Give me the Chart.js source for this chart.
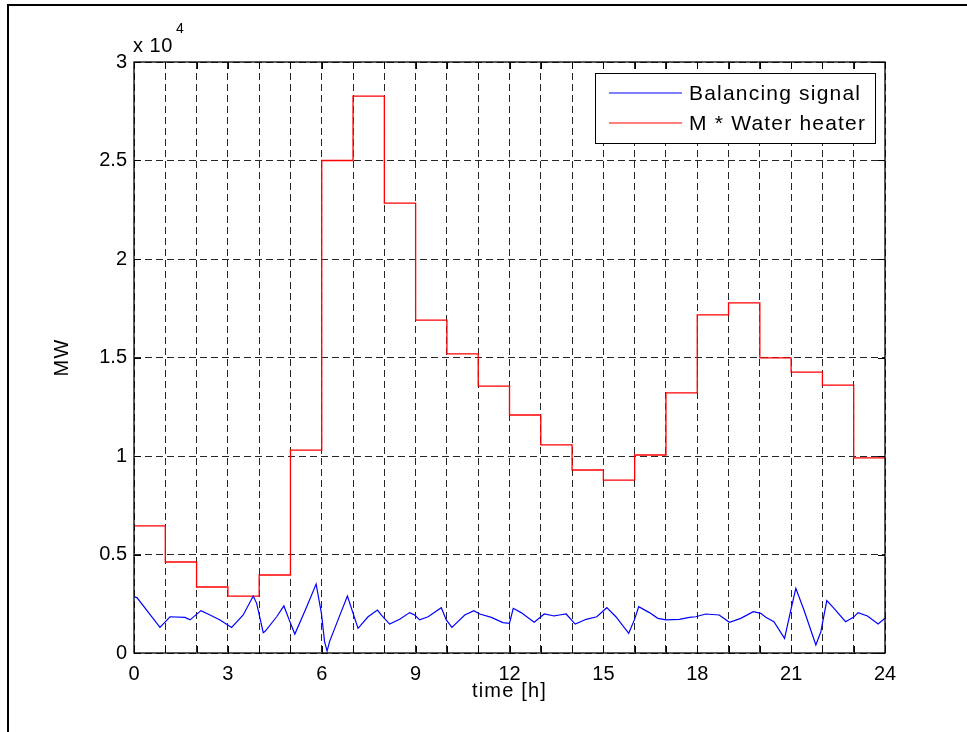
<!DOCTYPE html>
<html>
<head>
<meta charset="utf-8">
<title>Balancing signal vs water heater</title>
<script src="https://cdn.jsdelivr.net/npm/chart.js@4.4.1/dist/chart.umd.min.js"></script>
<style>
  html, body { margin: 0; padding: 0; background: #fff; overflow: hidden; }
  #wrap { position: relative; width: 967px; height: 732px; }
  #frame {
    position: absolute; left: 7px; top: 4px; width: 1000px; height: 800px;
    border-left: 2px solid #000; border-top: 2px solid #000; pointer-events: none;
  }
</style>
</head>
<body>
<div id="wrap">
  <canvas id="chart" width="967" height="732"></canvas>
  <div id="frame"></div>
</div>
<script>
// hourly water heater demand (MW), one value per hour 0..23
var heaterMW = [6450, 4620, 3350, 2890, 3960, 10300, 25000, 28270, 22840, 16900,
  15180, 13550, 12080, 10560, 9290, 8780, 10050, 13200, 17160, 17770,
  14980, 14260, 13600, 9900];

// balancing signal, sampled at uneven times (h)
var blueHours = [0, 0.1, 0.83, 1.15, 1.63, 1.79, 2.14, 2.43, 2.75, 3.12,
  3.49, 3.81, 3.92, 4.13, 4.19, 4.56, 4.79, 4.96, 5.14, 5.52,
  5.82, 5.99, 6.09, 6.17, 6.25, 6.52, 6.82, 7.16, 7.48, 7.78,
  7.9, 8.17, 8.49, 8.81, 8.97, 9.13, 9.4, 9.82, 9.98, 10.16,
  10.57, 10.86, 11.05, 11.42, 11.79, 12.0, 12.12, 12.37, 12.79, 13.11,
  13.43, 13.6, 13.81, 14.1, 14.45, 14.79, 15.11, 15.4, 15.81, 15.99,
  16.13, 16.47, 16.74, 17.0, 17.43, 17.75, 17.95, 18.27, 18.7, 19.03,
  19.39, 19.79, 20.03, 20.19, 20.45, 20.79, 20.99, 21.15, 21.41, 21.79,
  21.95, 22.14, 22.37, 22.74, 22.99, 23.14, 23.44, 23.78, 24.0];
var blueMW = [2860, 2800, 1300, 1840, 1810, 1680, 2150, 1930, 1680, 1300,
  1930, 2890, 2520, 1030, 1100, 1840, 2390, 1680, 960, 2350,
  3500, 2010, 580, 100, 580, 1680, 2890, 1250, 1840, 2180,
  1930, 1470, 1710, 2050, 1930, 1680, 1840, 2300, 1680, 1300,
  1930, 2150, 1980, 1810, 1540, 1510, 2270, 2050, 1560, 1980,
  1880, 1930, 1980, 1470, 1710, 1840, 2300, 1840, 1000, 1680,
  2350, 2050, 1760, 1680, 1710, 1810, 1840, 1980, 1930, 1560,
  1760, 2100, 2010, 1810, 1590, 740, 2180, 3280, 2180, 410,
  1080, 2660, 2270, 1590, 1810, 2050, 1880, 1470, 1760];

var xTickLabels = [0, 3, 6, 9, 12, 15, 18, 21, 24];
var yTickLabels = ['0', '0.5', '1', '1.5', '2', '2.5', '3'];
var seriesNames = ['Balancing signal', 'M * Water heater'];

var FONT = '"Liberation Sans", Arial, sans-serif';

var bluePts = blueHours.map(function (h, i) { return {x: h, y: blueMW[i]}; });
var heaterPts = heaterMW.map(function (v, i) { return {x: i, y: v}; });
heaterPts.push({x: 24, y: heaterMW[heaterMW.length - 1]});

// axes box, inward ticks, labels and legend drawn matlab style
var matlabFrame = {
  id: 'matlabFrame',
  afterDatasetsDraw: function (chart) {
    var ctx = chart.ctx, a = chart.chartArea;
    var x = chart.scales.x, y = chart.scales.y;
    ctx.save();
    ctx.strokeStyle = '#000';
    ctx.lineWidth = 1;
    ctx.beginPath();
    x.ticks.forEach(function (t) {
      var px = Math.round(x.getPixelForValue(t.value)) + 0.5;
      ctx.moveTo(px, a.bottom); ctx.lineTo(px, a.bottom - 7);
      ctx.moveTo(px, a.top); ctx.lineTo(px, a.top + 7);
    });
    y.ticks.forEach(function (t) {
      var py = Math.round(y.getPixelForValue(t.value)) + 0.5;
      ctx.moveTo(a.left, py); ctx.lineTo(a.left + 7, py);
      ctx.moveTo(a.right, py); ctx.lineTo(a.right - 7, py);
    });
    ctx.stroke();
    ctx.lineWidth = 1.3;
    ctx.strokeRect(a.left, a.top, a.right - a.left, a.bottom - a.top);

    // legend
    var bx = a.right - 290, by = a.top + 11, bw = 280, bh = 70;
    ctx.fillStyle = '#fff';
    ctx.fillRect(bx, by, bw, bh);
    ctx.lineWidth = 1;
    ctx.strokeRect(bx + 0.5, by + 0.5, bw, bh);
    ctx.font = '21px ' + FONT;
    ctx.letterSpacing = '1.2px';
    ctx.textBaseline = 'middle';
    ctx.textAlign = 'left';
    chart.data.datasets.forEach(function (ds, i) {
      var ry = by + 20 + i * 30;
      ctx.strokeStyle = ds.borderColor;
      ctx.lineWidth = 1.2;
      ctx.beginPath();
      ctx.moveTo(bx + 14, ry); ctx.lineTo(bx + 87, ry);
      ctx.stroke();
      ctx.fillStyle = '#000';
      ctx.fillText(ds.label, bx + 94, ry + 1);
    });

    // axis titles and exponent
    ctx.fillStyle = '#000';
    ctx.textAlign = 'center';
    ctx.font = '20px ' + FONT;
    ctx.letterSpacing = '1.2px';
    ctx.fillText('time [h]', (a.left + a.right) / 2, a.bottom + 38);
    ctx.save();
    ctx.translate(62, (a.top + a.bottom) / 2);
    ctx.rotate(-Math.PI / 2);
    ctx.fillText('MW', 0, 0);
    ctx.restore();
    ctx.letterSpacing = '0.5px';
    ctx.textAlign = 'left';
    ctx.textBaseline = 'alphabetic';
    ctx.font = '20px ' + FONT;
    ctx.fillText('x 10', a.left - 1, a.top - 10);
    ctx.font = '14px ' + FONT;
    ctx.fillText('4', a.left + 42, a.top - 29);
    ctx.restore();
  }
};

new Chart(document.getElementById('chart').getContext('2d'), {
  type: 'line',
  data: {
    datasets: [{
      label: seriesNames[0],
      data: bluePts,
      borderColor: 'rgb(0,0,255)',
      borderWidth: 1.2,
      pointRadius: 0,
      tension: 0
    }, {
      label: seriesNames[1],
      data: heaterPts,
      borderColor: 'rgb(255,0,0)',
      borderWidth: 1.3,
      pointRadius: 0,
      stepped: 'before',
      tension: 0
    }]
  },
  options: {
    responsive: false,
    animation: false,
    devicePixelRatio: 1,
    layout: {padding: {left: 0, top: 62, right: 82, bottom: 0}},
    plugins: {legend: {display: false}, tooltip: {enabled: false}},
    scales: {
      x: {
        type: 'linear', min: 0, max: 24,
        afterFit: function (s) { s.height = 79; },
        ticks: {
          stepSize: 1, color: '#000', padding: 9, maxRotation: 0, autoSkip: false,
          font: {family: FONT, size: 20},
          callback: function (v) { return xTickLabels.indexOf(v) >= 0 ? String(v) : ''; }
        },
        grid: {color: 'rgba(0,0,0,0.85)', lineWidth: 1, drawTicks: false},
        border: {display: false, dash: [7, 4]}
      },
      y: {
        type: 'linear', min: 0, max: 30000,
        afterFit: function (s) { s.width = 134; },
        ticks: {
          stepSize: 5000, color: '#000', padding: 7,
          font: {family: FONT, size: 20},
          callback: function (v) { return yTickLabels[Math.round(v / 5000)]; }
        },
        grid: {color: 'rgba(0,0,0,0.85)', lineWidth: 1, drawTicks: false},
        border: {display: false, dash: [7, 4]}
      }
    }
  },
  plugins: [matlabFrame]
});
</script>
</body>
</html>
